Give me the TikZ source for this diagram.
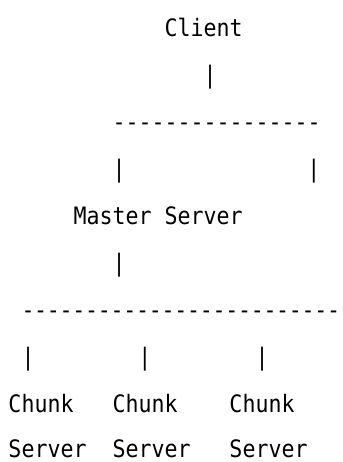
\documentclass[tikz,border=0pt]{standalone}
\usepackage{fontspec}
\newfontfamily\asciimono[FakeStretch=0.9]{DejaVu Sans Mono}
% a run of n separate hyphens, kerned by #2 (kerns also keep them from ligating)
\newcommand\hyphenrun[2][0pt]{\foreach \k in {1,...,#2}{-\kern#1}}
\begin{document}
\begin{tikzpicture}[x=0.75pt,y=-0.75pt,
  glyph/.style={inner sep=0pt, outer sep=0pt, anchor=base west,
    font=\asciimono\fontsize{18pt}{18pt}\selectfont}]
\fill[white] (0,0) rectangle (343,462);
\useasboundingbox (0,0) rectangle (343,462);
% top: client and its link down to the first bus
\node[glyph] (client) at (164.5,36) {Client};
\node[glyph] (link1) at (203.5,83) {|};
\node[glyph] (bus1) at (112.5,130) {\hyphenrun{16}};
\node[glyph] (link2) at (112.5,177) {|};
\node[glyph] (link3) at (307.5,177) {|};
% master server
\node[glyph] (master) at (73.5,224) {Master Server};
\node[glyph] (link4) at (112.5,271) {|};
% the long bus runs to the right edge
\node[glyph] (bus2) at (21.5,318) {\hyphenrun[-0.2pt]{25}\kern-3.5pt};
% chunk servers
\node[glyph] (link5) at (21.5,365) {|};
\node[glyph] (link6) at (138.5,365) {|};
\node[glyph] (link7) at (255.5,365) {|};
\node[glyph] (chunk1) at (8.5,412) {Chunk};
\node[glyph] (chunk2) at (112.5,412) {Chunk};
\node[glyph] (chunk3) at (229.5,412) {Chunk};
\node[glyph] (server1) at (8.5,457) {Server};
\node[glyph] (server2) at (112.5,457) {Server};
\node[glyph] (server3) at (229.5,457) {Server};
\end{tikzpicture}
\end{document}
